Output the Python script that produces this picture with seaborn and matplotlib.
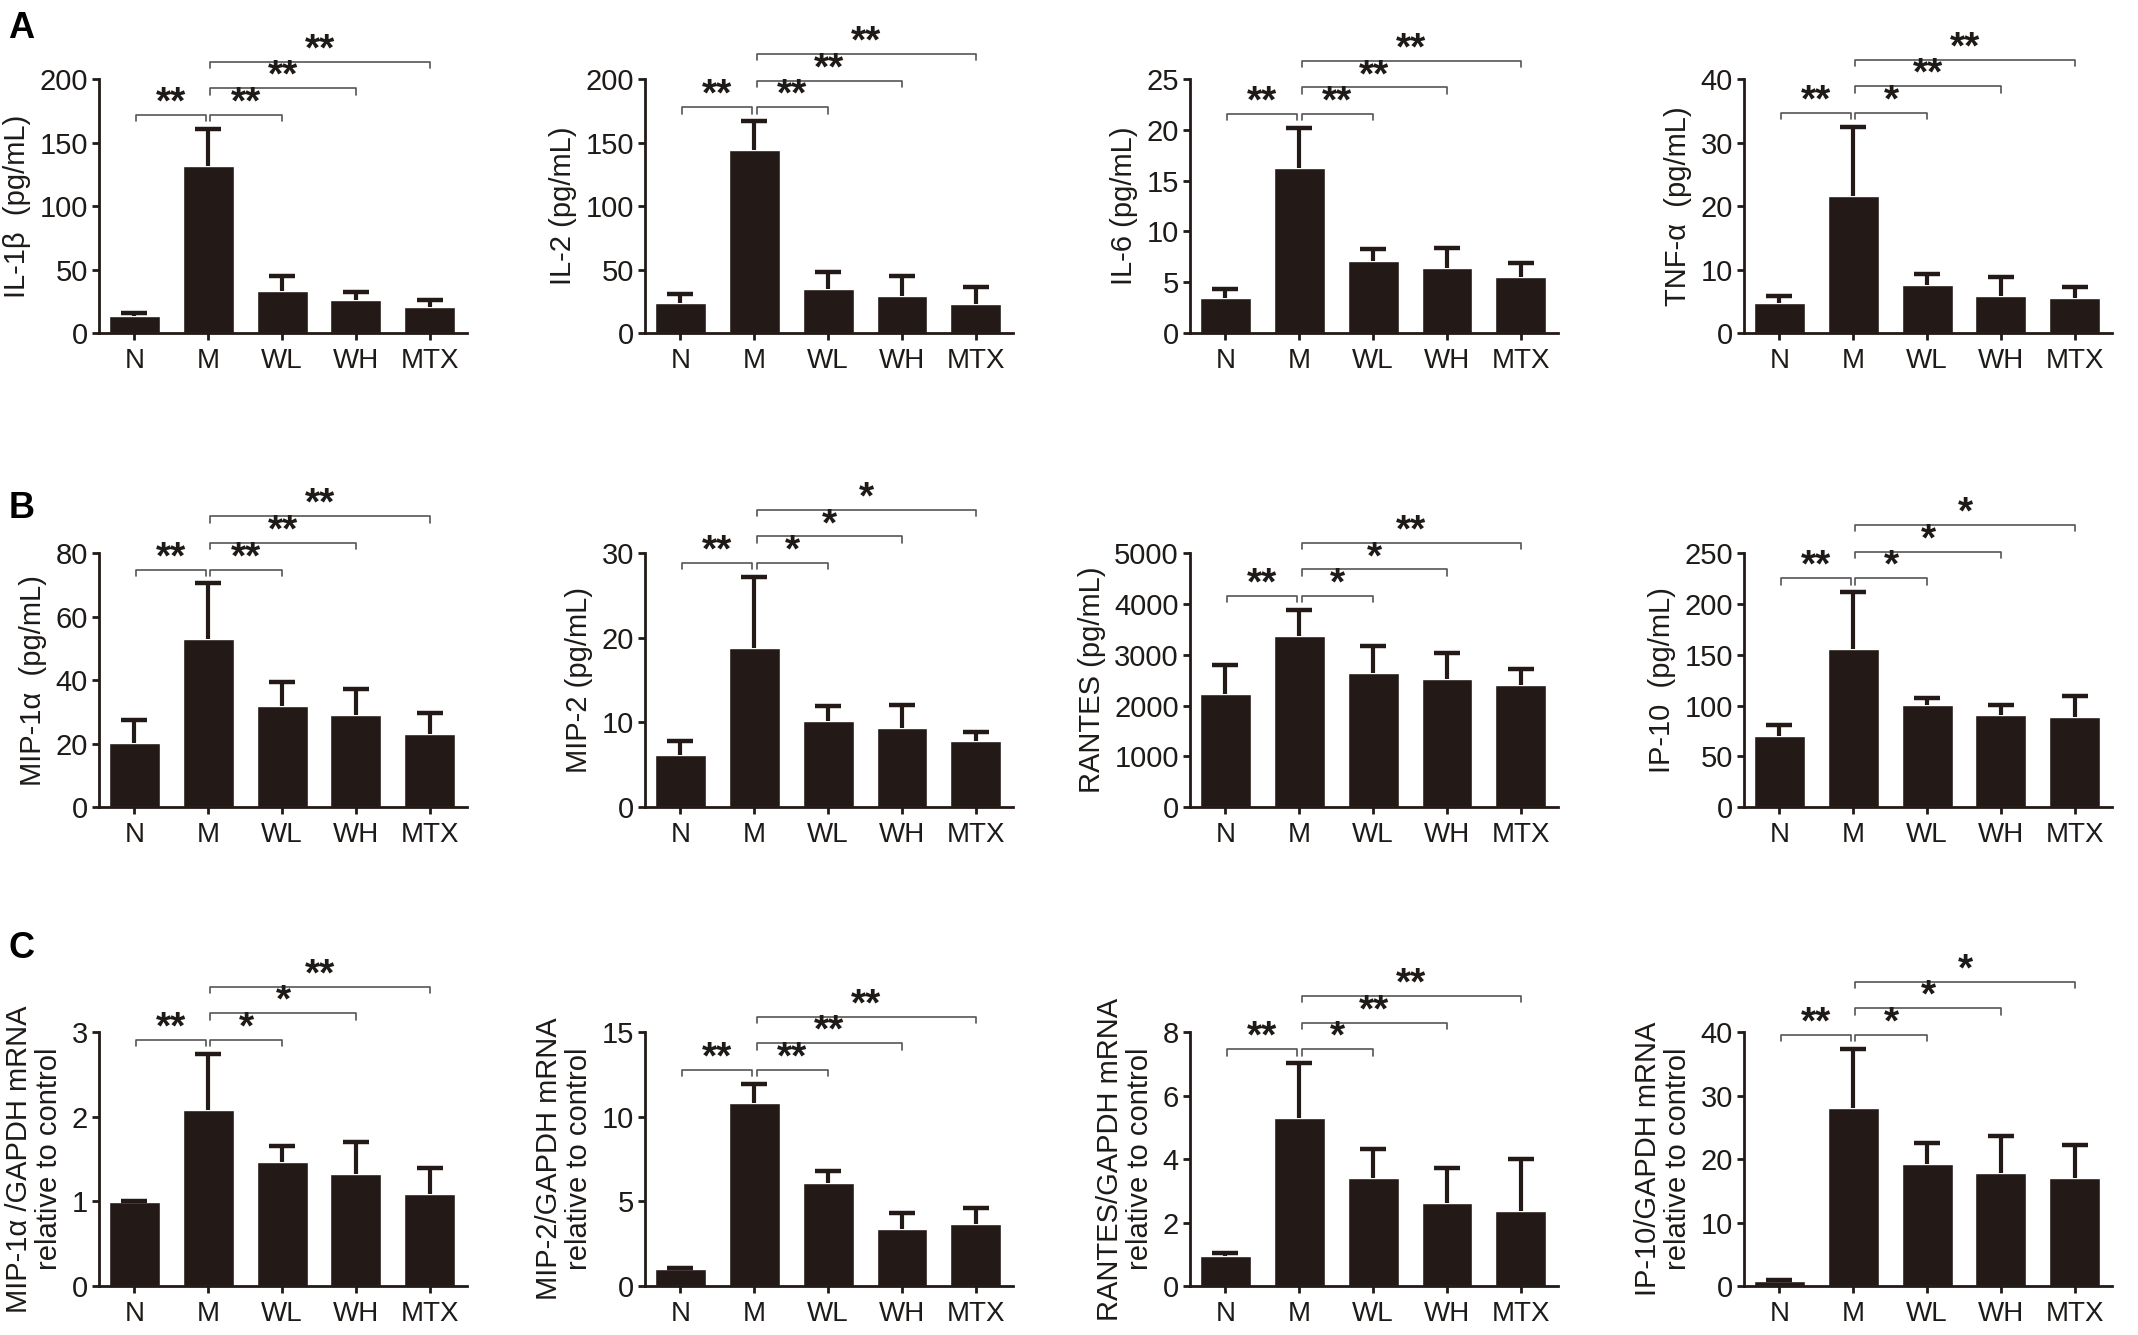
import numpy as np
import pandas as pd
import matplotlib
matplotlib.use("Agg")
import matplotlib.pyplot as plt
import seaborn as sns

groups = ["N", "M", "WL", "WH", "MTX"]

# A: serum cytokines (mean, upper error)
il1b_mean = [13.7, 132, 33, 25.8, 20.5]
il1b_err = [2.0, 29, 12, 6.2, 5.3]
il2_mean = [24, 144.6, 34.6, 29, 23]
il2_err = [7, 22.4, 13.2, 15.9, 13.4]
il6_mean = [3.46, 16.27, 7.06, 6.4, 5.54]
il6_err = [0.83, 3.93, 1.19, 2.0, 1.32]
tnfa_mean = [4.65, 21.6, 7.5, 5.8, 5.45]
tnfa_err = [1.25, 10.9, 1.85, 3.0, 1.85]

# B: serum chemokines
mip1a_mean = [20.3, 53, 32, 29, 23]
mip1a_err = [7.2, 17.5, 7.3, 8.2, 6.6]
mip2_mean = [6.1, 18.8, 10.2, 9.36, 7.77]
mip2_err = [1.7, 8.4, 1.8, 2.7, 1.1]
rantes_mean = [2224, 3368, 2645, 2520, 2414]
rantes_err = [572, 514, 526, 520, 316]
ip10_mean = [69.5, 155.6, 101, 91, 88.7]
ip10_err = [11, 56, 6, 9.3, 21]

# C: mRNA relative to control
mip1a_rna_mean = [0.99, 2.086, 1.47, 1.33, 1.09]
mip1a_rna_err = [0.01, 0.66, 0.19, 0.37, 0.30]
mip2_rna_mean = [1.01, 10.8, 6.08, 3.38, 3.68]
mip2_rna_err = [0.03, 1.15, 0.74, 0.95, 0.91]
rantes_rna_mean = [0.95, 5.29, 3.41, 2.62, 2.38]
rantes_rna_err = [0.09, 1.74, 0.92, 1.1, 1.62]
ip10_rna_mean = [0.8, 28.1, 19.25, 17.8, 17.1]
ip10_rna_err = [0.15, 9.3, 3.35, 5.9, 5.1]

# significance: N-M, M-WL, M-WH, M-MTX
il1b_sig = ["**", "**", "**", "**"]
il2_sig = ["**", "**", "**", "**"]
il6_sig = ["**", "**", "**", "**"]
tnfa_sig = ["**", "*", "**", "**"]
mip1a_sig = ["**", "**", "**", "**"]
mip2_sig = ["**", "*", "*", "*"]
rantes_sig = ["**", "*", "*", "**"]
ip10_sig = ["**", "*", "*", "*"]
mip1a_rna_sig = ["**", "*", "*", "**"]
mip2_rna_sig = ["**", "**", "**", "**"]
rantes_rna_sig = ["**", "*", "**", "**"]
ip10_rna_sig = ["**", "*", "*", "*"]

panels = [
    (il1b_mean, il1b_err, "IL-1β  (pg/mL)", 200, 50, il1b_sig),
    (il2_mean, il2_err, "IL-2 (pg/mL)", 200, 50, il2_sig),
    (il6_mean, il6_err, "IL-6 (pg/mL)", 25, 5, il6_sig),
    (tnfa_mean, tnfa_err, "TNF-α  (pg/mL)", 40, 10, tnfa_sig),
    (mip1a_mean, mip1a_err, "MIP-1α  (pg/mL)", 80, 20, mip1a_sig),
    (mip2_mean, mip2_err, "MIP-2 (pg/mL)", 30, 10, mip2_sig),
    (rantes_mean, rantes_err, "RANTES (pg/mL)", 5000, 1000, rantes_sig),
    (ip10_mean, ip10_err, "IP-10  (pg/mL)", 250, 50, ip10_sig),
    (mip1a_rna_mean, mip1a_rna_err, "MIP-1α /GAPDH mRNA\nrelative to control", 3, 1, mip1a_rna_sig),
    (mip2_rna_mean, mip2_rna_err, "MIP-2/GAPDH mRNA\nrelative to control", 15, 5, mip2_rna_sig),
    (rantes_rna_mean, rantes_rna_err, "RANTES/GAPDH mRNA\nrelative to control", 8, 2, rantes_rna_sig),
    (ip10_rna_mean, ip10_rna_err, "IP-10/GAPDH mRNA\nrelative to control", 40, 10, ip10_rna_sig),
]

sns.set_theme(style="ticks")
plt.rcParams["font.family"] = ["Liberation Sans", "DejaVu Sans"]

bar_color = "#231916"
text_color = "#1e1a18"

fig = plt.figure(figsize=(21.38, 13.35), dpi=100)
col_left = [0.0463, 0.3017, 0.5566, 0.8157]
row_bottom = [0.7506, 0.3955, 0.0367]
aw, ah = 0.172, 0.190

for i, (means, errs, label, ymax, step, sig) in enumerate(panels):
    r, c = divmod(i, 4)
    ax = fig.add_axes([col_left[c], row_bottom[r], aw, ah])
    df = pd.DataFrame({"group": groups, "value": means})
    sns.barplot(data=df, x="group", y="value", color=bar_color, saturation=1,
                width=0.69, errorbar=None, ax=ax)
    xs = np.arange(len(groups))
    tops = [m + e for m, e in zip(means, errs)]
    ax.vlines(xs, means, tops, color=bar_color, lw=3, zorder=3)
    ax.plot(xs, tops, ls="none", marker="_", ms=19, mew=3.2, color=bar_color, zorder=3)

    ax.set_xlim(-0.48, 4.5)
    ax.set_ylim(0, ymax)
    ticks = np.arange(0, ymax + step / 2, step)
    ax.set_yticks(ticks)
    ax.set_yticklabels([f"{int(v)}" for v in ticks])
    ax.set_xlabel("")
    ax.set_ylabel(label, fontsize=21, color=text_color, labelpad=6, linespacing=1.1)
    sns.despine(ax=ax)
    ax.spines["left"].set_bounds(0, ymax)
    for sp in ("left", "bottom"):
        ax.spines[sp].set_linewidth(2)
        ax.spines[sp].set_color(bar_color)
    ax.tick_params(axis="y", length=5, width=2, labelsize=21, colors=bar_color,
                   labelcolor=text_color, pad=3)
    ax.tick_params(axis="x", length=5, width=2, labelsize=20, colors=bar_color,
                   labelcolor=text_color, pad=6)

    # significance brackets
    base = tops[1] + 0.055 * ymax
    gap = 0.105 * ymax
    tk = 0.025 * ymax
    pairs = [(0, 1, base), (1, 2, base), (1, 3, base + gap), (1, 4, base + 2 * gap)]
    for (a, b, y), s in zip(pairs, sig):
        xa = a + (0.03 if a == 1 else 0.02)
        xb = b - (0.03 if b == 1 else 0.0)
        ax.plot([xa, xa, xb, xb], [y - tk, y, y, y - tk], color="#555555", lw=1.2,
                clip_on=False)
        ax.text((xa + xb) / 2, y + 0.045 * ymax, s, ha="center", va="center",
                fontsize=28, fontweight="bold", color=text_color, clip_on=False)

for letter, yb in zip(["A", "B", "C"], [0.9715, 0.612, 0.2824]):
    fig.text(0.004, yb, letter, fontsize=26, fontweight="bold", va="baseline",
             color="black")

fig.savefig("out.png", dpi=100)
